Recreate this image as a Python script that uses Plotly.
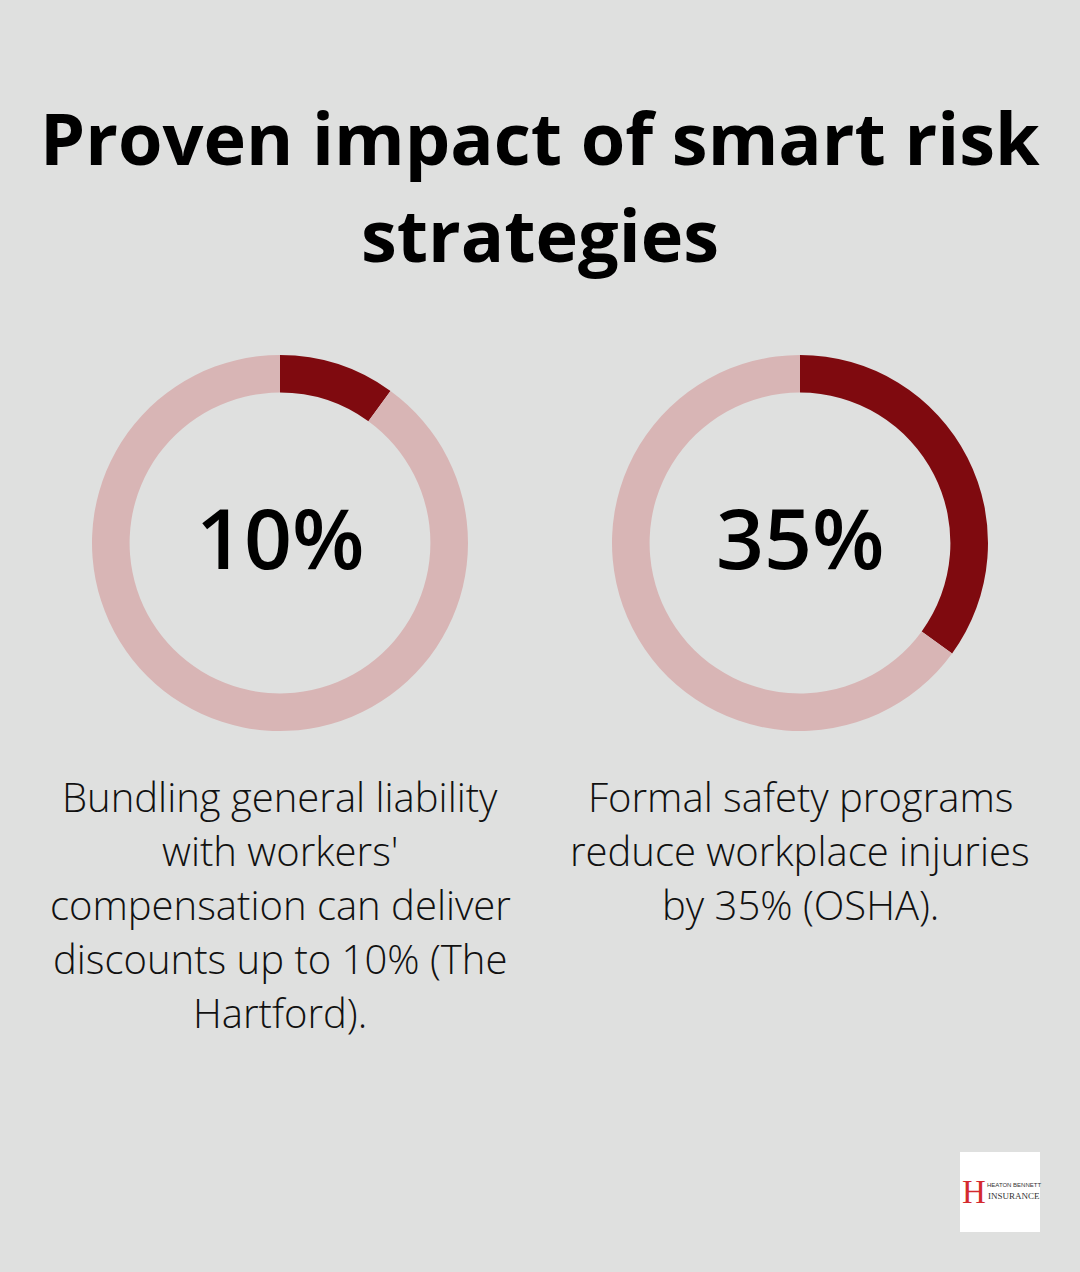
import plotly.graph_objects as go

# ---- data ----
labels = ["Impact", "Remainder"]
values_left = [10, 90]
values_right = [35, 65]
center_labels = ["10%", "35%"]
descriptions = [
    ["Bundling general liability", "with workers'", "compensation can deliver",
     "discounts up to 10% (The", "Hartford)."],
    ["Formal safety programs", "reduce workplace injuries", "by 35% (OSHA)."],
]
title_lines = ["Proven impact of smart risk", "strategies"]

BG = "#DFE0DF"
DARK = "#7F0A0F"
LIGHT = "#D8B5B5"
W, H = 1080, 1272

fig = go.Figure()

def px_dom(x0, x1, y0, y1):
    return dict(x=[x0 / W, x1 / W], y=[1 - y1 / H, 1 - y0 / H])

for vals, (x0, x1) in [(values_left, (92, 468)), (values_right, (612, 988))]:
    fig.add_trace(go.Pie(
        labels=labels, values=vals, hole=0.80, sort=False, direction="clockwise",
        rotation=0, marker=dict(colors=[DARK, LIGHT], line=dict(width=0)),
        textinfo="none", hoverinfo="skip", showlegend=False,
        domain=px_dom(x0, x1, 355, 731),
    ))

annotations = []
for i, t in enumerate(title_lines):
    annotations.append(dict(text=t, x=0.5, y=1 - (86 + 97 * i) / H, xref="paper", yref="paper",
                            xanchor="center", yanchor="top", showarrow=False,
                            font=dict(family="Open Sans", size=72, color="#000000", weight=700)))
for cx, lab in zip([280, 800], center_labels):
    annotations.append(dict(text=lab, x=cx / W, y=1 - 536 / H, xref="paper", yref="paper",
                            xanchor="center", yanchor="middle", showarrow=False,
                            font=dict(family="Open Sans", size=84, color="#000000", weight=600)))
for cx, lines in zip([280, 800], descriptions):
    for i, ln in enumerate(lines):
        annotations.append(dict(text=ln, x=cx / W, y=1 - (767 + 54 * i) / H, xref="paper", yref="paper",
                                xanchor="center", yanchor="top", showarrow=False,
                                font=dict(family="Open Sans", size=40, color="#111111", weight=300)))

# logo
annotations.append(dict(text="H", x=973.5 / W, y=1 - 1192 / H, xref="paper", yref="paper",
                        xanchor="center", yanchor="middle", showarrow=False,
                        font=dict(family="Liberation Serif", size=33, color="#D42A2E")))
annotations.append(dict(text="HEATON BENNETT", x=1013.5 / W, y=1 - 1185 / H, xref="paper", yref="paper",
                        xanchor="center", yanchor="middle", showarrow=False,
                        font=dict(family="Liberation Sans", size=6, color="#333333")))
annotations.append(dict(text="INSURANCE", x=1014 / W, y=1 - 1196 / H, xref="paper", yref="paper",
                        xanchor="center", yanchor="middle", showarrow=False,
                        font=dict(family="Liberation Serif", size=9, color="#333333")))

fig.update_layout(
    width=W, height=H, margin=dict(l=0, r=0, t=0, b=0),
    paper_bgcolor=BG, plot_bgcolor=BG,
    annotations=annotations,
    shapes=[dict(type="rect", xref="paper", yref="paper",
                 x0=960 / W, x1=1040 / W, y0=1 - 1232 / H, y1=1 - 1152 / H,
                 fillcolor="#FFFFFF", line=dict(width=0), layer="below")],
)

fig.write_html("out.html")
